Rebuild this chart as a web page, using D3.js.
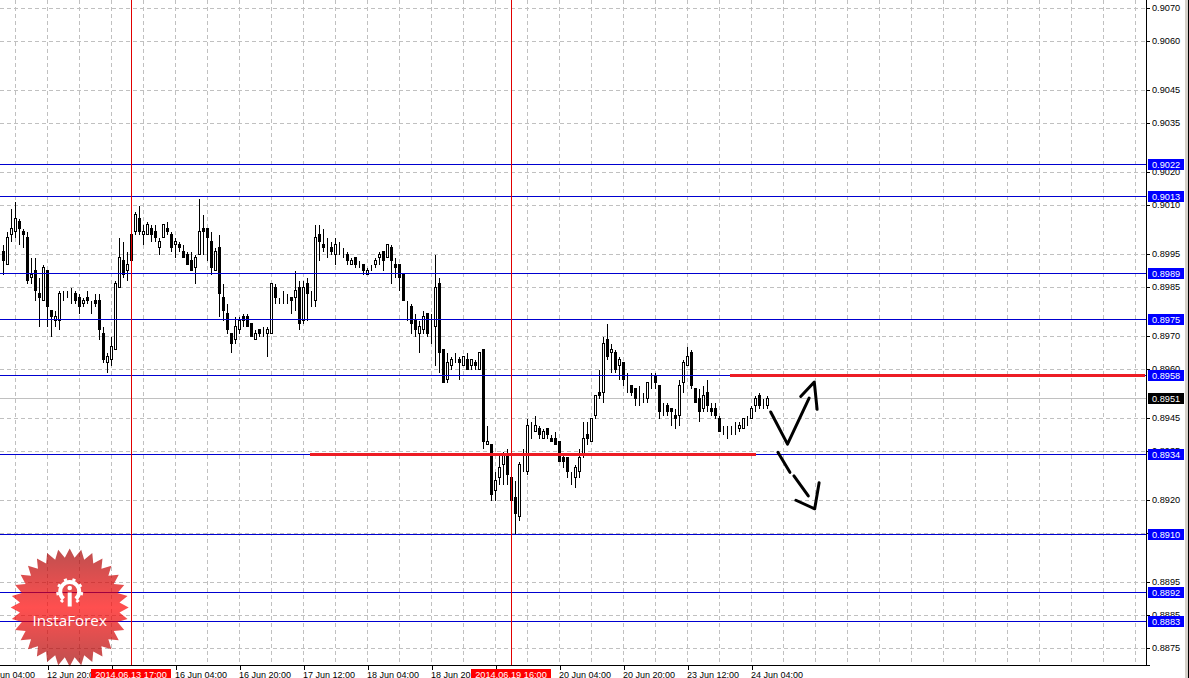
<!DOCTYPE html>
<html><head><meta charset="utf-8">
<script src="https://cdn.jsdelivr.net/npm/d3@7/dist/d3.min.js"></script>
<style>
html,body{margin:0;padding:0;background:#fff;overflow:hidden}
svg{display:block}
text{font-family:"Liberation Sans",Arial,sans-serif;font-size:9.2px}
</style></head><body><svg id="c" width="1189" height="678"></svg>
<script>
// Prices are in units of 0.0001
const opens=[8996,8992,9001,9002,9005,9002,9000,8988,8990,8983,8981,8990,8978,8975,8975,8984,8983,8982,8983,8982,8980,8982,8980,8981,8981,8971,8962,8963,8966,8985,8993,8990,9001,9002,9006,9001,9001,9003,9002,8997,9000,9003,9001,8998,8998,8996,8995,8993,8991,8995,9003,9003,8999,8990,8997,8982,8977,8971,8969,8972,8976,8976,8974,8969,8972,8970,8971,8971,8985,8981,8982,8981,8982,8982,8985,8975,8986,8982,8981,9001,8998,8998,8997,8995,8997,8996,8995,8992,8994,8991,8992,8989,8991,8992,8994,8996,8994,8997,8992,8992,8989,8980,8979,8975,8971,8972,8977,8972,8973,8986,8966,8957,8961,8962,8963,8961,8963,8961,8962,8960,8966,8937,8937,8923,8927,8931,8934,8927,8921,8915,8930,8929,8942,8941,8942,8939,8942,8939,8939,8938,8933,8933,8928,8927,8929,8934,8940,8938,8946,8953,8953,8969,8965,8965,8961,8962,8956,8955,8954,8953,8952,8951,8957,8958,8955,8948,8949,8948,8946,8946,8956,8961,8965,8954,8951,8948,8953,8948,8948,8945,8940,8941,8942,8941,8942,8942,8944,8945,8949,8952,8950,8949];
const highs=[8998,9002,9009,9011,9006,9003,9002,8994,8994,8988,8992,8990,8978,8978,8984,8984,8984,8985,8984,8983,8982,8984,8981,8983,8983,8973,8965,8970,8987,9000,8999,8996,9002,9008,9010,9004,9005,9004,9004,9000,9004,9005,9002,9000,8999,8998,8996,8996,8995,9012,9007,9003,9002,8997,9001,8986,8980,8971,8976,8976,8977,8977,8974,8972,8972,8973,8973,8986,8986,8982,8984,8983,8982,8990,8987,8987,8988,8984,9004,9004,9003,9000,8999,9000,8999,8997,8996,8994,8994,8993,8992,8991,8992,8994,8996,8996,8998,8998,8994,8992,8989,8981,8980,8977,8975,8978,8977,8977,8995,8988,8966,8965,8964,8965,8964,8964,8965,8963,8963,8965,8966,8943,8937,8929,8934,8935,8936,8934,8926,8932,8936,8945,8944,8946,8943,8942,8942,8940,8941,8938,8934,8933,8929,8931,8936,8944,8944,8945,8952,8960,8970,8974,8968,8966,8964,8962,8959,8955,8954,8955,8953,8956,8959,8959,8955,8950,8950,8948,8948,8957,8963,8967,8966,8954,8954,8955,8957,8950,8950,8946,8943,8943,8943,8944,8944,8945,8946,8949,8952,8953,8951,8952];
const lows=[8989,8992,8999,9000,8998,8997,8986,8986,8981,8973,8981,8973,8970,8973,8972,8981,8982,8980,8980,8977,8979,8980,8977,8979,8969,8962,8959,8961,8966,8985,8988,8987,8993,9001,9001,8998,9001,8999,8999,8995,9000,9001,8996,8994,8996,8994,8992,8990,8986,8995,8995,8993,8989,8990,8976,8975,8971,8965,8968,8971,8973,8973,8970,8969,8970,8970,8964,8971,8980,8980,8980,8980,8977,8978,8972,8974,8975,8979,8979,8993,8996,8994,8995,8992,8995,8994,8992,8992,8991,8991,8989,8989,8990,8991,8992,8990,8994,8986,8988,8984,8981,8975,8971,8970,8965,8971,8970,8968,8961,8959,8956,8956,8960,8962,8957,8961,8960,8960,8960,8960,8936,8937,8920,8920,8925,8925,8925,8920,8910,8914,8929,8928,8939,8941,8939,8939,8939,8938,8937,8932,8930,8927,8925,8924,8927,8933,8937,8938,8945,8951,8950,8963,8959,8959,8957,8955,8953,8952,8949,8949,8950,8950,8954,8954,8945,8946,8946,8943,8942,8943,8953,8961,8954,8950,8944,8947,8947,8946,8945,8941,8940,8939,8940,8940,8941,8942,8943,8945,8947,8948,8948,8948];
const closes=[8993,9000,9003,9006,9003,9001,8987,8989,8984,8982,8991,8979,8976,8976,8983,8984,8983,8982,8981,8979,8981,8981,8980,8980,8972,8963,8964,8967,8986,8994,8989,8992,8993,9007,9002,9002,9004,9001,9000,8999,9004,9002,8997,8999,8997,8994,8992,8990,8994,9002,9002,9000,8991,8996,8983,8978,8972,8968,8973,8975,8975,8973,8970,8971,8971,8970,8972,8986,8982,8981,8982,8981,8981,8984,8974,8985,8983,8982,9000,8999,8997,8998,8996,8998,8997,8996,8993,8993,8992,8991,8990,8990,8991,8993,8995,8993,8998,8993,8991,8988,8981,8980,8974,8972,8973,8976,8971,8972,8985,8965,8956,8962,8963,8962,8962,8964,8960,8963,8961,8965,8938,8938,8922,8926,8930,8934,8928,8920,8916,8931,8930,8943,8942,8943,8940,8941,8940,8938,8937,8932,8932,8929,8928,8930,8933,8939,8939,8945,8952,8952,8968,8964,8966,8960,8963,8957,8956,8953,8951,8953,8952,8956,8957,8956,8947,8948,8947,8947,8945,8955,8962,8964,8955,8950,8947,8952,8949,8947,8946,8941,8940,8941,8942,8941,8943,8945,8944,8948,8951,8949,8950,8951];

const priceTicks=[9070,9060,9045,9035,9020,9010,8995,8985,8970,8960,8945,8935,8920,8910,8895,8885,8875];
const levels=[9022.4,9012.7,8989.3,8975.2,8958,8934,8909.8,8892,8883.2];
const lastPrice=8951;
const timeTickBars=[-5,11,27,43,59,75,91,107,123,139,155,171,187];
const timeTickLabels=["12 Jun 04:00","12 Jun 20:00","13 Jun 12:00","16 Jun 04:00","16 Jun 20:00","17 Jun 12:00","18 Jun 04:00","18 Jun 20:00","19 Jun 12:00","20 Jun 04:00","20 Jun 20:00","23 Jun 12:00","24 Jun 04:00"];
const markerBars=[32,127];
const markerLabels=["2014.06.13 17:00","2014.06.19 16:00"];
// Red support/resistance segments: start bar, end bar, price
const segBars=[[76.5,188],[181.5,286]];
const segPrices=[8934,8958];
// Hand-drawn arrows: bar, price
const arrowUp=[[191.8,8947],[196,8937.2],[201.4,8951.2]];
const arrowUpHead=[[199.3,8951.7],[202.7,8956.1],[203.4,8947.8]];
const arrowDn1=[[193.6,8934.7],[196.6,8928.6]];
const arrowDn2=[[197.6,8927.5],[201.2,8921.4]];
const arrowDnHead=[[198.1,8920.1],[202.8,8917.5],[203.9,8925.4]];

const W=1189,H=678,axisX=1146.5,axisY=665.5;
const fmt=v=>(v/1e4).toFixed(4);
const x=d3.scaleLinear().domain([0,1]).range([3.5,7.5]);
const y=d3.scaleLinear().domain([8875,9060]).range([648.3,41]);
const sy=v=>Math.floor(y(v))+.5;
const svg=d3.select("#c");
svg.append("rect").attr("width",W).attr("height",H).attr("fill","#fff");
const defs=svg.append("defs");
const grad=defs.append("linearGradient").attr("id","star").attr("x1",0).attr("x2",0).attr("y1",0).attr("y2",1);
[[0,"#a00000"],[.5,"#ff0000"],[1,"#a00000"]].forEach(s=>grad.append("stop").attr("offset",s[0]).attr("stop-color",s[1]).attr("stop-opacity",.69));

// grid
const grid=svg.append("g").attr("stroke","#c0c0c0").attr("stroke-dasharray","4 3").attr("shape-rendering","crispEdges");
grid.selectAll(".h").data(priceTicks).join("line").attr("class","h").attr("x1",0).attr("x2",axisX).attr("y1",sy).attr("y2",sy);
grid.selectAll(".v").data(d3.range(15.5,axisX,32)).join("line").attr("class","v").attr("x1",d=>d).attr("x2",d=>d).attr("y1",0).attr("y2",axisY);

// last price line
svg.append("line").attr("x1",0).attr("x2",axisX).attr("y1",sy(lastPrice)).attr("y2",sy(lastPrice)).attr("stroke","#c0c0c0").attr("shape-rendering","crispEdges");

// candles
const idx=d3.range(opens.length);
const cg=svg.append("g").attr("shape-rendering","crispEdges").attr("stroke","#000");
cg.selectAll(".w").data(idx).join("line").attr("class","w").attr("x1",i=>x(i)).attr("x2",i=>x(i)).attr("y1",i=>sy(highs[i])).attr("y2",i=>sy(lows[i])+.5);
cg.selectAll(".b").data(idx).join("rect").attr("class","b")
 .attr("x",i=>x(i)-1).attr("width",2)
 .attr("y",i=>sy(Math.max(opens[i],closes[i])))
 .attr("height",i=>sy(Math.min(opens[i],closes[i]))-sy(Math.max(opens[i],closes[i])))
 .attr("fill",i=>closes[i]<opens[i]?"#000":"#fff");

// levels
svg.append("g").attr("stroke","#0000d0").attr("shape-rendering","crispEdges").selectAll("line").data(levels).join("line")
 .attr("x1",0).attr("x2",axisX).attr("y1",sy).attr("y2",sy);
// time markers
svg.append("g").attr("stroke","#e00000").attr("shape-rendering","crispEdges").selectAll("line").data(markerBars).join("line")
 .attr("x1",x).attr("x2",x).attr("y1",0).attr("y2",axisY);
// red segments
svg.append("g").attr("stroke","#ed1c24").attr("stroke-width",3).attr("shape-rendering","crispEdges").selectAll("line").data(segPrices).join("line")
 .attr("x1",(d,i)=>x(segBars[i][0])).attr("x2",(d,i)=>Math.min(x(segBars[i][1]),axisX-2)).attr("y1",sy).attr("y2",sy);

// logo
const logo=svg.append("g").attr("transform","translate(69.7,607.5)");
const n=32,pts=[];
for(let k=0;k<n*2;k++){const a=Math.PI*k/n,r=k%2?50:59;pts.push([r*Math.sin(a),-r*Math.cos(a)]);}
logo.append("path").attr("d",d3.line()(pts)+"Z").attr("fill","url(#star)");
const icon=logo.append("g").attr("transform","translate(0,-16)").attr("fill","none").attr("stroke","#fff");
icon.append("path").attr("d",d3.arc()({innerRadius:7.5,outerRadius:11.5,startAngle:-2.45,endAngle:2.45})).attr("fill","#fff").attr("stroke","none");
d3.range(8).forEach(k=>{const a=-2.45+k*0.7;icon.append("line").attr("x1",11*Math.sin(a)).attr("y1",-11*Math.cos(a)).attr("x2",13.5*Math.sin(a)).attr("y2",-13.5*Math.cos(a)).attr("stroke-width",3.2);});
icon.append("circle").attr("cy",-3.5).attr("r",2.3).attr("fill","#fff").attr("stroke","none");
icon.append("rect").attr("x",-2).attr("y",1).attr("width",4).attr("height",14).attr("fill","#fff").attr("stroke","none");
logo.append("text").attr("x",0).attr("y",18).attr("text-anchor","middle").attr("fill","#fff").style("font-family","'Open Sans',sans-serif").style("font-size","15.2px").text("InstaForex");

// arrows
const ln=d3.line().x(d=>x(d[0])).y(d=>y(d[1]));
svg.append("g").attr("fill","none").attr("stroke","#000").attr("stroke-width",3).attr("stroke-linecap","round").attr("stroke-linejoin","round")
 .selectAll("path").data([arrowUp,arrowUpHead,arrowDn1,arrowDn2,arrowDnHead]).join("path").attr("d",ln);

// axes
svg.append("rect").attr("x",axisX+.5).attr("y",0).attr("width",W-axisX).attr("height",axisY).attr("fill","#fff");
const ya=d3.axisRight(y).tickValues(priceTicks).tickSize(3).tickPadding(2).tickFormat(fmt);
const yg=svg.append("g").attr("transform",`translate(${axisX},0)`).attr("shape-rendering","crispEdges").call(ya);
yg.select(".domain").remove();
yg.selectAll("text").attr("font-size",null).attr("font-family",null).attr("fill","#000").attr("x",5.5);
yg.selectAll(".tick").attr("transform",d=>`translate(0,${sy(d)})`);
svg.append("g").attr("stroke","#000").attr("shape-rendering","crispEdges").call(s=>{
 s.append("line").attr("x1",axisX).attr("x2",axisX).attr("y1",0).attr("y2",axisY+.5);
 s.append("line").attr("x1",0).attr("x2",axisX+3).attr("y1",axisY).attr("y2",axisY);
});
const xa=d3.axisBottom(x).tickValues(timeTickBars).tickSize(4).tickFormat((d,i)=>timeTickLabels[i]);
const xg=svg.append("g").attr("transform",`translate(0,${axisY})`).attr("shape-rendering","crispEdges").call(xa);
xg.select(".domain").remove();
xg.selectAll("text").attr("font-size",null).attr("font-family",null).style("font-size","9px").attr("fill","#000").attr("text-anchor","start").attr("dx",-1).attr("y",12).attr("dy",0);

// price tags
const tags=[...levels.map(v=>({v,c:"#0000ff"})),{v:lastPrice,c:"#000"}];
const tg=svg.append("g").selectAll("g").data(tags).join("g").attr("transform",d=>`translate(1148,${Math.floor(y(d.v))})`);
tg.append("rect").attr("x",0).attr("y",-5).attr("width",36).attr("height",11).attr("fill",d=>d.c);
tg.append("text").attr("x",4).attr("y",3.5).attr("fill","#fff").text(d=>fmt(d.v));

// time tags
const mg=svg.append("g").selectAll("g").data(markerBars).join("g").attr("transform",d=>`translate(${x(d)-40.5},669)`);
mg.append("rect").attr("width",80).attr("height",9).attr("fill","#ff0000");
mg.append("text").attr("x",40).attr("y",8.5).attr("text-anchor","middle").attr("fill","#fff").text((d,i)=>markerLabels[i]);

// window edge
svg.append("rect").attr("x",1185).attr("y",0).attr("width",3).attr("height",H).attr("fill","#d4d0c8");
svg.append("rect").attr("x",1188).attr("y",0).attr("width",1).attr("height",H).attr("fill","#000");
</script></body></html>
